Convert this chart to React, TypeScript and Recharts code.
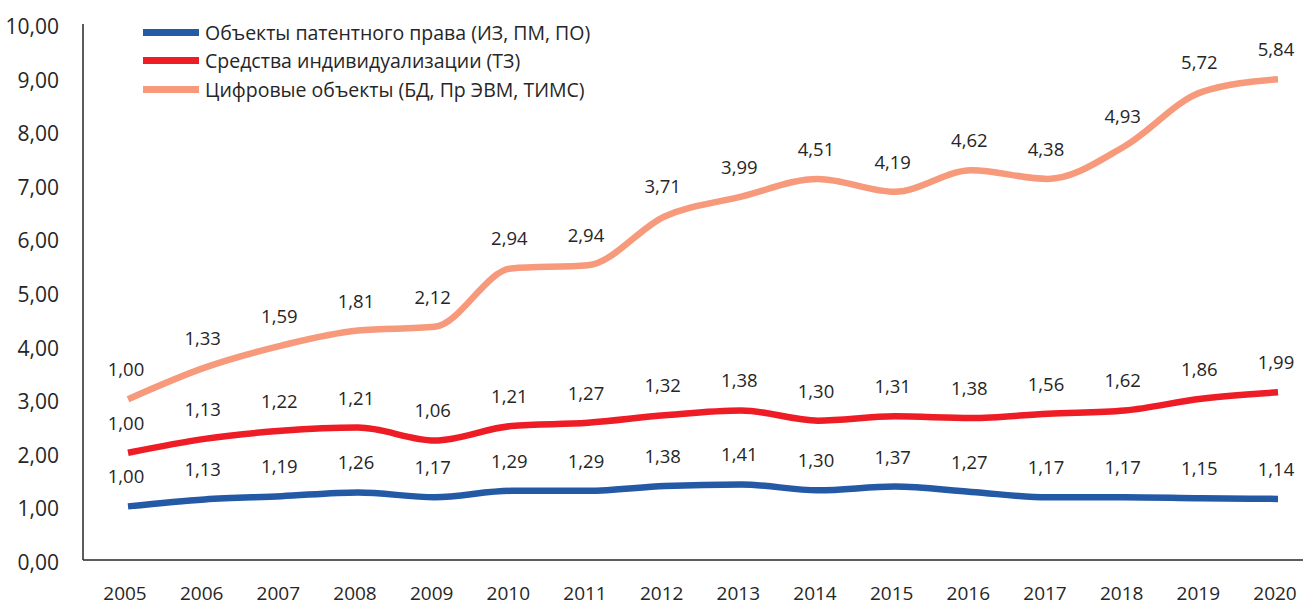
import { Area, ComposedChart, XAxis, YAxis } from "recharts";

const years = [
  "2005", "2006", "2007", "2008", "2009", "2010", "2011", "2012",
  "2013", "2014", "2015", "2016", "2017", "2018", "2019", "2020",
];
const patent = [1.0, 1.13, 1.19, 1.26, 1.17, 1.29, 1.29, 1.38, 1.41, 1.3, 1.37, 1.27, 1.17, 1.17, 1.15, 1.14];
const brand = [1.0, 1.13, 1.22, 1.21, 1.06, 1.21, 1.27, 1.32, 1.38, 1.3, 1.31, 1.38, 1.56, 1.62, 1.86, 1.99];
const digital = [1.0, 1.33, 1.59, 1.81, 2.12, 2.94, 2.94, 3.71, 3.99, 4.51, 4.19, 4.62, 4.38, 4.93, 5.72, 5.84];
const yTicks = [0, 1, 2, 3, 4, 5, 6, 7, 8, 9, 10];

const seriesNames = [
  "Объекты патентного права (ИЗ, ПМ, ПО)",
  "Средства индивидуализации (ТЗ)",
  "Цифровые объекты (БД, Пр ЭВМ, ТИМС)",
];
const colors = ["#2459a6", "#ee1c25", "#f7997b"];

const data = years.map((year, i) => ({
  year,
  patent: patent[i],
  brand: brand[i],
  digital: digital[i],
}));

const FONT = "'Open Sans', 'Segoe UI', sans-serif";
const TEXT = "#262626";
const fmt = (v: number) => v.toFixed(2).replace(".", ",");

function makeLabel(values: number[]) {
  return (props: any) => {
    const { x, y, index } = props;
    if (x == null || y == null || index == null) return null;
    return (
      <text
        key={index}
        x={x - 2}
        y={y - 23}
        textAnchor="middle"
        fontSize={18.5}
        fontFamily={FONT}
        fill={TEXT}
      >
        {fmt(values[index])}
      </text>
    );
  };
}

function YTick(props: any) {
  const { x, y, payload } = props;
  return (
    <text x={x} y={y + 10} textAnchor="end" fontSize={21} fontFamily={FONT} fill={TEXT}>
      {fmt(payload.value)}
    </text>
  );
}

function XTick(props: any) {
  const { x, y, payload } = props;
  return (
    <text x={x - 3} y={y + 32} textAnchor="middle" fontSize={19} fontFamily={FONT} fill={TEXT}>
      {payload.value}
    </text>
  );
}

// legend sits over the plot, drawn outside the chart so it takes no room from it
function LegendBox() {
  return (
    <div
      style={{
        position: "absolute",
        left: 143,
        top: 18,
        fontFamily: FONT,
        fontSize: 19.5,
        color: TEXT,
      }}
    >
      {seriesNames.map((name, i) => (
        <div key={name} style={{ display: "flex", alignItems: "center", height: 28.5 }}>
          <span
            style={{
              display: "inline-block",
              width: 56,
              height: 7,
              background: colors[i],
              marginRight: 6,
            }}
          />
          <span style={{ whiteSpace: "nowrap" }}>{name}</span>
        </div>
      ))}
    </div>
  );
}

export default function App() {
  return (
    <div style={{ position: "absolute", left: 0, top: 0, width: 1303, height: 605, background: "#fff" }}>
      <ComposedChart
        width={1303}
        height={605}
        data={data}
        margin={{ top: 24, right: 0, left: 0, bottom: 0 }}
      >
        <XAxis
          dataKey="year"
          height={45}
          padding={{ left: 45, right: 25 }}
          tickLine={false}
          axisLine={{ stroke: TEXT, strokeWidth: 1.5 }}
          tick={<XTick />}
          interval={0}
        />
        <YAxis
          width={83}
          domain={[0, 10]}
          ticks={yTicks}
          tickLine={false}
          axisLine={{ stroke: TEXT, strokeWidth: 1.5 }}
          tick={<YTick />}
          tickMargin={18}
        />
        <Area
          type="monotone"
          dataKey="patent"
          stackId="s"
          stroke={colors[0]}
          strokeWidth={6.5}
          fill="none"
          fillOpacity={0}
          dot={false}
          activeDot={false}
          isAnimationActive={false}
          label={makeLabel(patent)}
        />
        <Area
          type="monotone"
          dataKey="brand"
          stackId="s"
          stroke={colors[1]}
          strokeWidth={6.5}
          fill="none"
          fillOpacity={0}
          dot={false}
          activeDot={false}
          isAnimationActive={false}
          label={makeLabel(brand)}
        />
        <Area
          type="monotone"
          dataKey="digital"
          stackId="s"
          stroke={colors[2]}
          strokeWidth={6.5}
          fill="none"
          fillOpacity={0}
          dot={false}
          activeDot={false}
          isAnimationActive={false}
          label={makeLabel(digital)}
        />
      </ComposedChart>
      <LegendBox />
    </div>
  );
}
